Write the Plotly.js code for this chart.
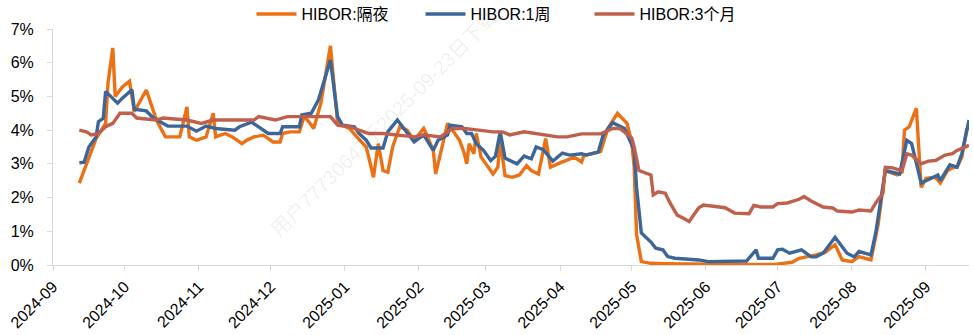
<!DOCTYPE html>
<html>
<head>
<meta charset="utf-8">
<script src="https://cdn.plot.ly/plotly-3.0.1.min.js"></script>
<style>html,body{margin:0;padding:0;background:#fff;}#chart{width:973px;height:335px;}</style>
</head>
<body>
<div id="chart"></div>
<script>
const seriesNames = ["HIBOR:隔夜", "HIBOR:1周", "HIBOR:3个月"];

const overnightDates = ["2024-09-12","2024-09-16","2024-09-19","2024-09-23","2024-09-24","2024-09-26","2024-09-27","2024-09-30","2024-10-03","2024-10-05","2024-10-10","2024-10-14","2024-10-15","2024-10-18","2024-10-24","2024-10-27","2024-10-28","2024-10-31","2024-11-04","2024-11-07","2024-11-08","2024-11-12","2024-11-15","2024-11-19","2024-11-21","2024-11-24","2024-11-28","2024-12-02","2024-12-05","2024-12-06","2024-12-09","2024-12-13","2024-12-15","2024-12-17","2024-12-19","2024-12-22","2024-12-26","2024-12-29","2024-12-31","2025-01-03","2025-01-06","2025-01-10","2025-01-12","2025-01-13","2025-01-15","2025-01-17","2025-01-19","2025-01-21","2025-01-24","2025-01-27","2025-01-30","2025-02-03","2025-02-04","2025-02-07","2025-02-08","2025-02-10","2025-02-13","2025-02-15","2025-02-18","2025-02-20","2025-02-21","2025-02-22","2025-02-24","2025-02-25","2025-02-27","2025-03-01","2025-03-04","2025-03-06","2025-03-07","2025-03-09","2025-03-12","2025-03-15","2025-03-18","2025-03-20","2025-03-23","2025-03-26","2025-03-28","2025-03-31","2025-04-04","2025-04-07","2025-04-10","2025-04-11","2025-04-14","2025-04-18","2025-04-21","2025-04-25","2025-04-29","2025-05-01","2025-05-02","2025-05-03","2025-05-05","2025-05-09","2025-05-15","2025-05-22","2025-06-01","2025-06-15","2025-06-30","2025-07-04","2025-07-07","2025-07-10","2025-07-13","2025-07-17","2025-07-21","2025-07-24","2025-07-25","2025-07-28","2025-08-01","2025-08-04","2025-08-08","2025-08-09","2025-08-12","2025-08-15","2025-08-20","2025-08-22","2025-08-23","2025-08-25","2025-08-28","2025-08-30","2025-09-01","2025-09-05","2025-09-07","2025-09-10","2025-09-12","2025-09-14","2025-09-16","2025-09-18","2025-09-19"];
const overnightValues = [2.43,3.2,3.75,4.2,5.4,6.44,5.0,5.28,5.45,4.55,5.19,4.36,4.2,3.8,3.8,4.69,3.8,3.7,3.8,4.5,3.8,3.9,3.8,3.6,3.7,3.8,3.85,3.65,3.65,3.9,3.95,3.95,4.4,4.25,4.05,4.8,6.5,4.2,4.15,4.05,3.8,3.5,2.9,2.6,3.6,2.8,2.75,3.5,4.1,4.0,3.7,4.05,3.9,3.4,2.7,3.3,4.2,4.0,3.7,3.3,3.0,3.6,3.3,3.9,3.2,3.0,2.7,2.9,3.7,2.65,2.6,2.67,2.95,2.8,2.7,3.75,2.9,3.0,3.1,3.2,3.05,3.25,3.3,3.37,4.05,4.5,4.2,3.65,2.9,0.9,0.1,0.05,0.04,0.03,0.02,0.02,0.02,0.05,0.08,0.2,0.24,0.3,0.38,0.53,0.6,0.15,0.1,0.25,0.15,0.15,1.2,2.8,2.67,2.76,4.0,4.1,4.65,2.3,2.57,2.6,2.43,2.8,2.88,2.9,3.2,4.0,4.15];

const weekDates = ["2024-09-12","2024-09-14","2024-09-16","2024-09-19","2024-09-20","2024-09-22","2024-09-23","2024-09-28","2024-09-30","2024-10-04","2024-10-05","2024-10-10","2024-10-13","2024-10-17","2024-10-19","2024-10-27","2024-10-31","2024-11-04","2024-11-08","2024-11-16","2024-11-18","2024-11-23","2024-11-26","2024-11-30","2024-12-05","2024-12-06","2024-12-13","2024-12-14","2024-12-18","2024-12-21","2024-12-26","2024-12-29","2024-12-31","2025-01-05","2025-01-07","2025-01-10","2025-01-12","2025-01-17","2025-01-19","2025-01-23","2025-01-30","2025-02-03","2025-02-07","2025-02-09","2025-02-13","2025-02-14","2025-02-19","2025-02-21","2025-02-23","2025-02-25","2025-02-28","2025-03-03","2025-03-05","2025-03-07","2025-03-09","2025-03-14","2025-03-17","2025-03-20","2025-03-22","2025-03-25","2025-03-29","2025-04-02","2025-04-05","2025-04-10","2025-04-12","2025-04-17","2025-04-19","2025-04-23","2025-04-28","2025-04-30","2025-05-02","2025-05-03","2025-05-05","2025-05-09","2025-05-11","2025-05-14","2025-05-16","2025-05-19","2025-05-29","2025-06-02","2025-06-18","2025-06-22","2025-06-23","2025-06-29","2025-07-01","2025-07-03","2025-07-06","2025-07-11","2025-07-15","2025-07-17","2025-07-20","2025-07-25","2025-07-30","2025-08-02","2025-08-04","2025-08-09","2025-08-11","2025-08-15","2025-08-18","2025-08-21","2025-08-24","2025-08-26","2025-08-30","2025-09-03","2025-09-06","2025-09-07","2025-09-11","2025-09-14","2025-09-16","2025-09-19"];
const weekValues = [3.03,3.05,3.5,3.8,4.25,4.35,5.15,4.8,4.95,5.2,4.62,4.57,4.36,4.2,4.12,4.12,3.97,4.12,4.05,4.0,4.1,4.24,4.1,3.9,3.9,4.1,4.1,4.45,4.5,4.9,6.08,4.4,4.15,4.1,3.9,3.7,3.47,3.47,3.95,4.3,3.65,3.86,3.4,3.7,3.86,4.15,4.1,3.9,3.9,3.6,3.4,3.1,3.22,3.95,3.17,3.0,3.23,3.15,3.5,3.42,3.08,3.32,3.26,3.3,3.26,3.35,3.85,4.22,4.05,3.75,3.4,2.3,0.95,0.68,0.5,0.45,0.25,0.2,0.15,0.1,0.12,0.45,0.2,0.2,0.45,0.47,0.35,0.45,0.24,0.24,0.35,0.82,0.35,0.24,0.4,0.3,0.95,2.8,2.76,2.7,3.7,3.6,2.43,2.57,2.67,2.5,2.97,2.9,3.3,4.3];

const threeMonthDates = ["2024-09-12","2024-09-15","2024-09-17","2024-09-20","2024-09-23","2024-09-26","2024-09-29","2024-10-04","2024-10-06","2024-10-14","2024-10-17","2024-10-27","2024-11-02","2024-11-07","2024-11-24","2024-11-26","2024-12-03","2024-12-08","2024-12-26","2024-12-29","2025-01-03","2025-01-07","2025-01-11","2025-01-17","2025-01-30","2025-02-03","2025-02-10","2025-02-15","2025-02-20","2025-02-26","2025-03-04","2025-03-08","2025-03-11","2025-03-17","2025-03-27","2025-03-31","2025-04-04","2025-04-10","2025-04-18","2025-04-23","2025-04-26","2025-04-29","2025-05-01","2025-05-02","2025-05-04","2025-05-09","2025-05-10","2025-05-12","2025-05-15","2025-05-17","2025-05-20","2025-05-23","2025-05-25","2025-05-29","2025-05-31","2025-06-09","2025-06-13","2025-06-19","2025-06-21","2025-06-24","2025-06-29","2025-07-01","2025-07-05","2025-07-10","2025-07-12","2025-07-15","2025-07-20","2025-07-24","2025-07-26","2025-08-01","2025-08-04","2025-08-09","2025-08-11","2025-08-14","2025-08-15","2025-08-18","2025-08-22","2025-08-24","2025-08-26","2025-08-30","2025-09-02","2025-09-05","2025-09-09","2025-09-12","2025-09-14","2025-09-19"];
const threeMonthValues = [4.0,3.95,3.86,3.9,4.1,4.2,4.5,4.5,4.36,4.3,4.36,4.3,4.2,4.3,4.3,4.4,4.3,4.4,4.4,4.15,4.1,4.0,3.9,3.9,3.8,3.86,3.8,4.05,4.05,4.0,3.95,3.95,3.86,3.95,3.86,3.8,3.8,3.89,3.89,4.05,4.05,3.9,3.77,3.5,2.8,2.67,2.08,2.17,2.13,1.84,1.48,1.37,1.29,1.7,1.78,1.7,1.54,1.52,1.77,1.72,1.72,1.82,1.84,1.95,2.03,1.9,1.72,1.69,1.6,1.57,1.63,1.6,1.84,2.13,2.9,2.88,2.8,3.3,3.26,3.0,3.08,3.1,3.26,3.3,3.4,3.55];

const colors = ["#EC7014", "#3C6699", "#C0604C"];
const font = "Arial, 'Liberation Sans', 'Noto Sans CJK SC', sans-serif";

const traces = [
  {x: overnightDates, y: overnightValues, name: seriesNames[0]},
  {x: weekDates, y: weekValues, name: seriesNames[1]},
  {x: threeMonthDates, y: threeMonthValues, name: seriesNames[2]}
].map((t, i) => Object.assign(t, {
  type: "scatter", mode: "lines",
  line: {color: colors[i], width: 3.4, shape: "linear"}
}));

const layout = {
  width: 973, height: 335,
  margin: {l: 53, r: 4, t: 29, b: 70, autoexpand: false},
  paper_bgcolor: "#fff", plot_bgcolor: "#fff",
  font: {family: font, size: 16, color: "#000"},
  showlegend: true,
  legend: {orientation: "h", xref: "container", yref: "container",
           x: 0.519, xanchor: "center", y: 0.958, yanchor: "middle",
           entrywidth: 114, entrywidthmode: "pixels",
           font: {family: font, size: 16, color: "#000"}, itemwidth: 40, tracegroupgap: 0},
  xaxis: {
    type: "date", range: ["2024-09-01", "2025-09-19"],
    dtick: "M1", tick0: "2024-09-01", tickformat: "%Y-%m", tickangle: -45,
    showgrid: false, zeroline: false,
    showline: true, linecolor: "#D9D9D9", linewidth: 1,
    ticks: "outside", ticklen: 5, tickcolor: "#D9D9D9",
    tickfont: {family: font, size: 16, color: "#000"}
  },
  yaxis: {
    range: [0, 7], dtick: 1, ticksuffix: "%",
    showgrid: false, zeroline: false,
    showline: true, linecolor: "#D9D9D9", linewidth: 1,
    ticks: "outside", ticklen: 5, tickcolor: "#D9D9D9", ticklabelstandoff: 10,
    tickfont: {family: font, size: 16, color: "#000"}
  },
  annotations: [{
    text: "用户77730647于2025-09-23日下载", xref: "paper", yref: "paper",
    x: 0.362, y: 0.6, showarrow: false, textangle: -45,
    font: {family: font, size: 20, color: "rgba(0,0,0,0.07)"}
  }]
};

Plotly.newPlot("chart", traces, layout, {displayModeBar: false, staticPlot: true});
</script>
</body>
</html>
